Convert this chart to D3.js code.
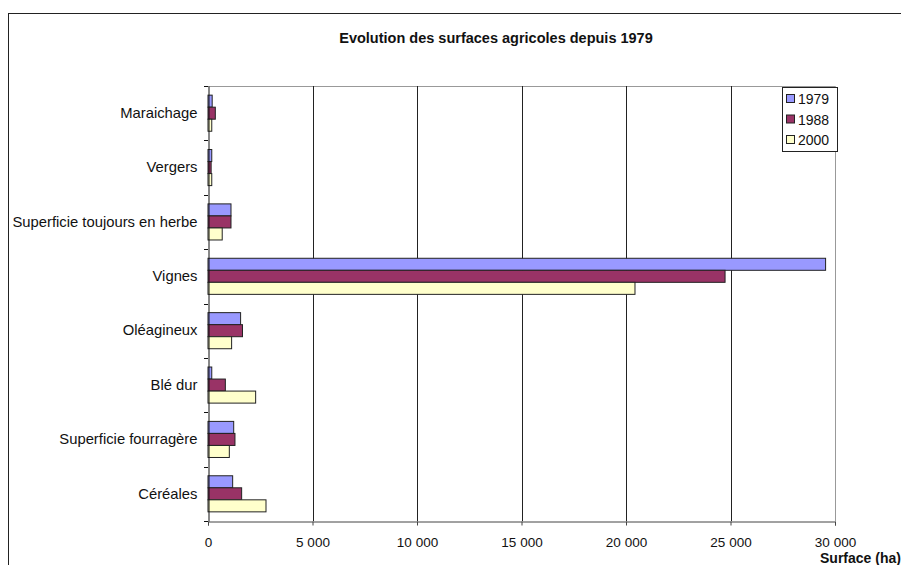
<!DOCTYPE html>
<html>
<head>
<meta charset="utf-8">
<script src="https://cdn.jsdelivr.net/npm/d3@7"></script>
<style>
  body { margin: 0; background: #fff; }
  text { font-family: "Liberation Sans", Arial, sans-serif; fill: #111; }
</style>
</head>
<body>
<div id="chart"></div>
<script>
// categories, top to bottom
var categories = ["Maraichage", "Vergers", "Superficie toujours en herbe", "Vignes",
                  "Oléagineux", "Blé dur", "Superficie fourragère", "Céréales"];
var years = ["1979", "1988", "2000"];
// surfaces (ha)
var values_1979 = [200, 180, 1100, 29550, 1560, 180, 1230, 1180];
var values_1988 = [350, 150, 1100, 24740, 1650, 830, 1290, 1610];
var values_2000 = [180, 180, 680, 20430, 1130, 2280, 1020, 2775];
var x_ticks = [0, 5000, 10000, 15000, 20000, 25000, 30000];

var chart_width = 901, chart_height = 565;
var plot_left = 208, plot_right = 835, plot_top = 86, plot_bottom = 521;
var colors = {"1979": "#9999ff", "1988": "#993366", "2000": "#ffffcc"};

var series = {"1979": values_1979, "1988": values_1988, "2000": values_2000};
var rows = categories.map(function(c, i) {
    return {cat: c, vals: years.map(function(y) { return {year: y, v: series[y][i]}; })};
});

var svg = d3.select('#chart').append('svg')
    .attr('width', chart_width)
    .attr('height', chart_height);

// outer frame (cropped at right and bottom)
svg.append('rect')
    .attr('x', 8.5).attr('y', 13.5)
    .attr('width', 1000).attr('height', 700)
    .attr('fill', 'none').attr('stroke', '#222').attr('stroke-width', 1);

svg.append('text')
    .attr('x', 496).attr('y', 43)
    .attr('text-anchor', 'middle')
    .style('font-size', '14.5px').style('font-weight', 'bold')
    .text('Evolution des surfaces agricoles depuis 1979');

var x_scale = d3.scaleLinear().domain([0, 30000]).range([plot_left, plot_right]);
var y0 = d3.scaleBand().domain(categories).range([plot_top, plot_bottom]);
var y1 = d3.scaleBand().domain(years).range([0, y0.bandwidth()]).paddingOuter(0.76);

// plot area border (top and right, grey)
svg.append('path')
    .attr('d', 'M' + plot_left + ',' + (plot_top + 0.5) + 'H' + (plot_right + 0.5) + 'V' + plot_bottom)
    .attr('fill', 'none').attr('stroke', '#999');

// gridlines
svg.append('g').selectAll('line')
    .data(x_ticks.slice(1, -1))
    .enter().append('line')
    .attr('x1', function(d) { return Math.round(x_scale(d)) + 0.5; })
    .attr('x2', function(d) { return Math.round(x_scale(d)) + 0.5; })
    .attr('y1', plot_top).attr('y2', plot_bottom)
    .attr('stroke', '#222');

// bars
var groups = svg.append('g').selectAll('g')
    .data(rows)
    .enter().append('g')
    .attr('transform', function(d) { return 'translate(0,' + y0(d.cat) + ')'; });

groups.selectAll('rect')
    .data(function(d) { return d.vals; })
    .enter().append('rect')
    .attr('x', x_scale(0))
    .attr('y', function(d) { return y1(d.year); })
    .attr('width', function(d) { return x_scale(d.v) - x_scale(0); })
    .attr('height', y1.bandwidth())
    .attr('fill', function(d) { return colors[d.year]; })
    .attr('stroke', '#222').attr('stroke-width', 1);

// x axis
var x_axis = d3.axisBottom(x_scale)
    .tickValues(x_ticks)
    .tickSize(4)
    .tickPadding(12)
    .tickFormat(function(d) { return d3.format(',')(d).replace(/,/g, ' '); });

var xg = svg.append('g')
    .attr('transform', 'translate(0,' + (plot_bottom + 0.5) + ')')
    .call(x_axis);
xg.select('.domain').attr('stroke', '#444');
xg.selectAll('.tick line').attr('stroke', '#444');
xg.selectAll('text').style('font-size', '13.5px').attr('fill', '#111')
    .style('font-family', '"Liberation Sans", Arial, sans-serif');

// y axis
var y_axis = d3.axisLeft(y0).tickSize(0).tickPadding(11);
var yg = svg.append('g')
    .attr('transform', 'translate(' + (plot_left + 0.5) + ',0)')
    .call(y_axis);
yg.select('.domain').attr('stroke', '#111');
yg.selectAll('text').style('font-size', '14.8px').attr('fill', '#111')
    .style('font-family', '"Liberation Sans", Arial, sans-serif');

// category separator ticks
var sep = d3.range(categories.length + 1).map(function(i) { return plot_top + i * y0.step(); });
svg.append('g').selectAll('line')
    .data(sep)
    .enter().append('line')
    .attr('x1', plot_left - 4).attr('x2', plot_left)
    .attr('y1', function(d) { return Math.round(d) + 0.5; })
    .attr('y2', function(d) { return Math.round(d) + 0.5; })
    .attr('stroke', '#111');

// axis title (cut off at the window edge like the reference)
svg.append('text')
    .attr('x', 820).attr('y', 563)
    .style('font-size', '14px').style('font-weight', 'bold')
    .text('Surface (ha)');

// legend
var legend = svg.append('g').attr('transform', 'translate(782,87)');
legend.append('rect')
    .attr('x', 0.5).attr('y', 0.5)
    .attr('width', 55).attr('height', 64)
    .attr('fill', '#fff').attr('stroke', '#222');
var items = legend.selectAll('g.item')
    .data(years)
    .enter().append('g')
    .attr('class', 'item')
    .attr('transform', function(d, i) { return 'translate(4,' + (7 + i * 20.5) + ')'; });
items.append('rect')
    .attr('x', 0.5).attr('y', 0.5)
    .attr('width', 8).attr('height', 8)
    .attr('fill', function(d) { return colors[d]; })
    .attr('stroke', '#222');
items.append('text')
    .attr('x', 12).attr('y', 10)
    .style('font-size', '14px')
    .text(function(d) { return d; });
</script>
</body>
</html>
